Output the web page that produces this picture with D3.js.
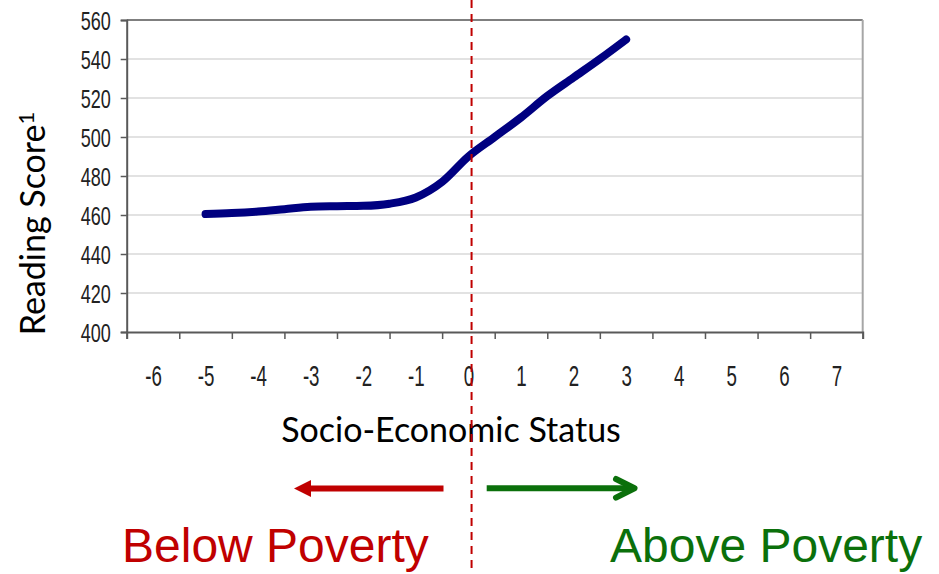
<!DOCTYPE html>
<html>
<head>
<meta charset="utf-8">
<script src="https://cdn.jsdelivr.net/npm/d3@7/dist/d3.min.js"></script>
<style>
  html, body { margin: 0; padding: 0; background: #fff; }
  svg { display: block; }
</style>
</head>
<body>
<svg id="chart" width="939" height="574"></svg>
<script>
// ---- data ----
const sesValues     = [-5, -4.5, -4, -3.5, -3, -2.5, -2, -1.5, -1, -0.5, 0, 0.5, 1, 1.5, 2, 2.5, 3];
const readingScores = [460.5, 461, 461.8, 463, 464.2, 464.5, 464.7, 465.8, 469, 477, 490, 500, 510, 521, 530.5, 540, 550];
const xTickLabels   = [-6, -5, -4, -3, -2, -1, 0, 1, 2, 3, 4, 5, 6, 7];
const yTickValues   = [400, 420, 440, 460, 480, 500, 520, 540, 560];
const povertyThreshold = 0.06;
const xTitle = "Socio-Economic Status";
const yTitle = "Reading Score";
const yTitleSup = "1";
const leftLabel = "Below Poverty";
const rightLabel = "Above Poverty";

// ---- layout ----
const W = 939, H = 574;
const plot = { left: 126.7, right: 862.7, top: 20, bottom: 332 };
const arial = "'Liberation Sans', Arial, sans-serif";
const calibriLike = "Lato, 'Open Sans', sans-serif";
const fmt = d => String(d);

const svg = d3.select("#chart");
svg.append("rect").attr("width", W).attr("height", H).attr("fill", "#fff");

const x = d3.scaleLinear().domain([-6.5, 7.5]).range([plot.left, plot.right]);
const y = d3.scaleLinear().domain([400, 560]).range([plot.bottom, plot.top]);

// gridlines
svg.append("g")
  .selectAll("line")
  .data(yTickValues.filter(v => v > 400 && v < 560))
  .join("line")
  .attr("x1", plot.left).attr("x2", plot.right)
  .attr("y1", d => y(d)).attr("y2", d => y(d))
  .attr("stroke", "#d9d9d9").attr("stroke-width", 1.6);

// plot border top & right
svg.append("line")
  .attr("x1", plot.left).attr("x2", plot.right)
  .attr("y1", y(560)).attr("y2", y(560))
  .attr("stroke", "#7f7f7f").attr("stroke-width", 2);
svg.append("line")
  .attr("x1", plot.right).attr("x2", plot.right)
  .attr("y1", y(560)).attr("y2", y(400))
  .attr("stroke", "#a6a6a6").attr("stroke-width", 2);

// y axis
const ySx = 0.82, ySy = 1.16;
const yAxis = svg.append("g")
  .attr("transform", `translate(${plot.left},0)`)
  .call(d3.axisLeft(y).tickValues(yTickValues).tickSize(6).tickFormat(fmt));
yAxis.select(".domain").attr("stroke", "#595959").attr("stroke-width", 2);
yAxis.selectAll(".tick line").attr("stroke", "#595959").attr("stroke-width", 1.5);
yAxis.selectAll(".tick text")
  .attr("font-family", arial).attr("font-size", 22).attr("fill", "#222")
  .attr("x", -16 / ySx)
  .attr("dy", "0.36em")
  .attr("transform", `scale(${ySx},${ySy})`);

// x axis: tick marks at category boundaries
const xAxisMarks = svg.append("g")
  .attr("transform", `translate(0,${plot.bottom})`)
  .call(d3.axisBottom(x).tickValues(d3.range(-6.5, 7.51, 1)).tickSize(7).tickFormat(""));
xAxisMarks.select(".domain").attr("stroke", "#595959").attr("stroke-width", 2);
xAxisMarks.selectAll(".tick line").attr("stroke", "#595959").attr("stroke-width", 1.5);

// x axis labels centred in categories
const xSx = 0.85, xSy = 1.36;
const xAxisLabels = svg.append("g")
  .attr("transform", `translate(0,${plot.bottom})`)
  .call(d3.axisBottom(x).tickValues(xTickLabels).tickSize(0).tickFormat(fmt));
xAxisLabels.select(".domain").remove();
xAxisLabels.selectAll(".tick text")
  .attr("font-family", arial).attr("font-size", 22).attr("fill", "#222")
  .attr("dy", null)
  .attr("y", 54.5 / xSy)
  .attr("transform", `scale(${xSx},${xSy})`);

// data line
const line = d3.line()
  .x((d, i) => x(sesValues[i]))
  .y(d => y(d))
  .curve(d3.curveMonotoneX);
svg.append("path")
  .datum(readingScores)
  .attr("d", line)
  .attr("fill", "none")
  .attr("stroke", "#000080")
  .attr("stroke-width", 8)
  .attr("stroke-linecap", "round")
  .attr("stroke-linejoin", "round");

// axis titles
svg.append("text")
  .attr("x", 451).attr("y", 441.5)
  .attr("text-anchor", "middle")
  .attr("font-family", calibriLike).attr("font-size", 34).attr("fill", "#000")
  .text(xTitle);

const yt = svg.append("text")
  .attr("transform", "translate(45,223.5) rotate(-90)")
  .attr("text-anchor", "middle")
  .attr("font-family", calibriLike).attr("font-size", 34).attr("fill", "#000");
yt.append("tspan").text(yTitle);
yt.append("tspan").attr("font-size", 22).attr("dy", "-0.5em").text(yTitleSup);

// poverty dashed line
svg.append("line")
  .attr("x1", x(povertyThreshold)).attr("x2", x(povertyThreshold))
  .attr("y1", 0).attr("y2", H)
  .attr("stroke", "#c00000").attr("stroke-width", 2)
  .attr("stroke-dasharray", "8,6");

// arrows
const red = "#c00000", green = "#0b700b";
svg.append("line")
  .attr("x1", 443.5).attr("x2", 308).attr("y1", 488.5).attr("y2", 488.5)
  .attr("stroke", red).attr("stroke-width", 6);
svg.append("path")
  .attr("d", "M294,488.5 L311,480 L311,497 Z")
  .attr("fill", red);

svg.append("line")
  .attr("x1", 486.7).attr("x2", 633).attr("y1", 488.3).attr("y2", 488.3)
  .attr("stroke", green).attr("stroke-width", 6);
svg.append("path")
  .attr("d", "M616,479 L634.5,488.3 L616,497.6")
  .attr("fill", "none")
  .attr("stroke", green).attr("stroke-width", 6)
  .attr("stroke-linecap", "round").attr("stroke-linejoin", "round");

// region labels
svg.append("text")
  .attr("x", 122).attr("y", 562)
  .attr("font-family", arial).attr("font-size", 48)
  .attr("fill", red)
  .text(leftLabel);
svg.append("text")
  .attr("x", 610).attr("y", 562)
  .attr("font-family", arial).attr("font-size", 48)
  .attr("fill", green)
  .text(rightLabel);
</script>
</body>
</html>
